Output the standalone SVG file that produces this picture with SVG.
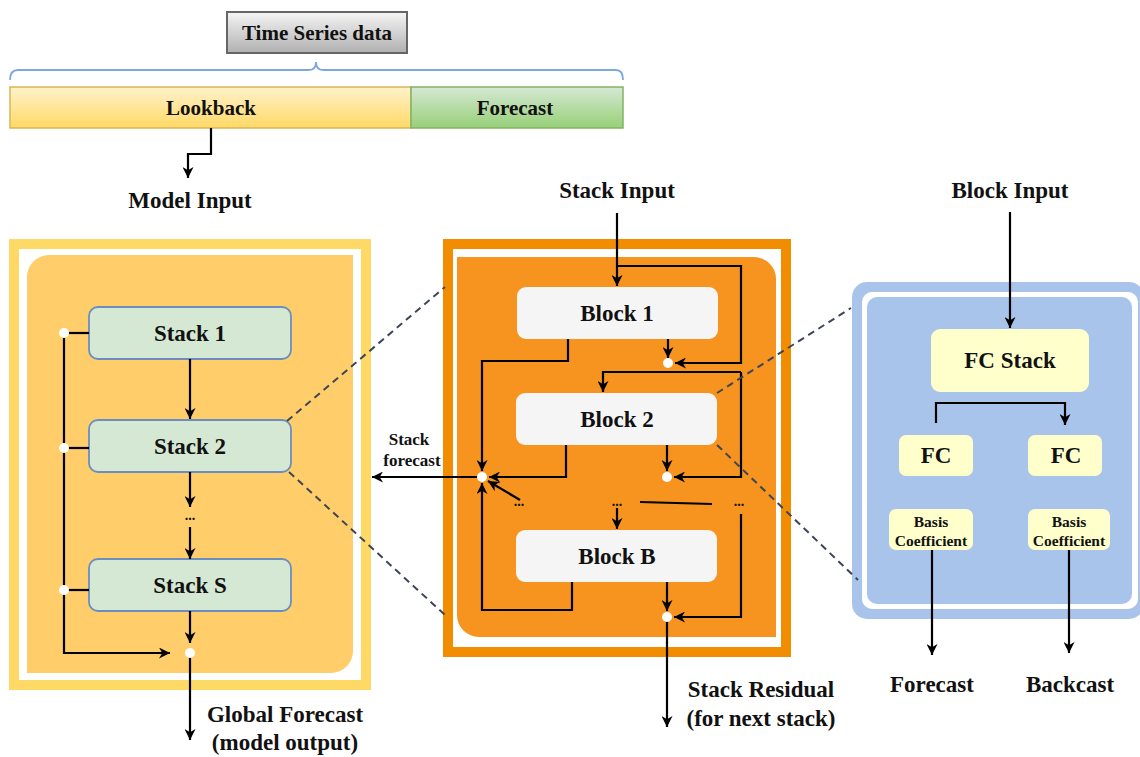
<svg xmlns="http://www.w3.org/2000/svg" width="1140" height="757" viewBox="0 0 1140 757">
<defs>
<linearGradient id="gGray" x1="0" y1="0" x2="0" y2="1"><stop offset="0" stop-color="#f5f5f5"/><stop offset="1" stop-color="#b0b0b0"/></linearGradient>
<linearGradient id="gYel" x1="0" y1="0" x2="0" y2="1"><stop offset="0" stop-color="#fff2cc"/><stop offset="1" stop-color="#ffd966"/></linearGradient>
<linearGradient id="gGrn" x1="0" y1="0" x2="0" y2="1"><stop offset="0" stop-color="#d5e8d4"/><stop offset="1" stop-color="#97d077"/></linearGradient>
<marker id="arr" viewBox="0 0 10 10" refX="10" refY="5" markerWidth="13" markerHeight="11" markerUnits="userSpaceOnUse" orient="auto">
<path d="M0,0 L10,5 L0,10 L3,5 Z" fill="#000"/>
</marker>
<style>
text{font-family:"Liberation Serif","Times New Roman",serif;font-weight:bold;fill:#111;text-anchor:middle}
.t22{font-size:23px}
.t21{font-size:21px}
.t17{font-size:17px}
.t15{font-size:15.5px}
.t14{font-size:14px}
.ln{fill:none;stroke:#000;stroke-width:2.2}
.ar{fill:none;stroke:#000;stroke-width:2.2;marker-end:url(#arr)}
.dash{fill:none;stroke:#3c4657;stroke-width:2;stroke-dasharray:7 5}
.dot{fill:#fff}
.stack{fill:#d5e8d4;stroke:#6c8ebf;stroke-width:1.8}
.block{fill:#f5f5f5}
.fc{fill:#ffffcc}
</style>
</defs>

<!-- top -->
<g id="ts-data">
<rect x="227" y="12" width="180" height="41" fill="url(#gGray)" stroke="#666" stroke-width="2"/>
<text class="t21" x="317" y="40">Time Series data</text>
</g>
<g id="brace">
<path d="M10,80 Q10,70 18,70 L309,70 Q316,70 316,62 Q316,70 323,70 L616,70 Q623,70 623,80" fill="none" stroke="#7ea6e0" stroke-width="1.8"/>
</g>
<g id="lookback">
<rect x="10" y="87" width="401" height="41" fill="url(#gYel)" stroke="#d6b656" stroke-width="1.5"/>
<text class="t21" x="211" y="115">Lookback</text>
</g>
<g id="forecast-bar">
<rect x="411" y="87" width="212" height="41" fill="url(#gGrn)" stroke="#82b366" stroke-width="1.5"/>
<text class="t21" x="515" y="115">Forecast</text>
</g>
<g id="model-input"><text class="t22" x="190" y="208">Model Input</text></g>

<!-- left panel -->
<g id="left-panel">
<rect x="9" y="239" width="362" height="451" fill="#ffd966"/>
<rect x="19" y="249" width="342" height="431" fill="#fff"/>
<path d="M49,255 H353 V651 A22,22 0 0 1 331,673 H27 V277 A22,22 0 0 1 49,255 Z" fill="#ffcd69"/>
</g>
<g id="stack1"><rect class="stack" x="89" y="307" width="202" height="52" rx="9"/><text class="t22" x="190" y="341">Stack 1</text></g>
<g id="stack2"><rect class="stack" x="89" y="420" width="202" height="52" rx="9"/><text class="t22" x="190" y="454">Stack 2</text></g>
<g id="stackS"><rect class="stack" x="89" y="559" width="202" height="52" rx="9"/><text class="t22" x="190" y="593">Stack S</text></g>
<g id="left-dots"><text class="t14" x="190" y="520">...</text></g>

<!-- middle panel -->
<g id="mid-panel">
<rect x="443" y="239" width="348" height="418" fill="#f28c00"/>
<rect x="453" y="249" width="328" height="398" fill="#fff"/>
<path d="M457,257 H754 A22,22 0 0 1 776,279 V637 H479 A22,22 0 0 1 457,615 Z" fill="#f6941f"/>
</g>
<g id="stack-input"><text class="t22" x="617" y="198">Stack Input</text></g>
<g id="block1"><rect class="block" x="517" y="287" width="201" height="52" rx="9"/><text class="t22" x="617" y="321">Block 1</text></g>
<g id="block2"><rect class="block" x="516" y="393" width="201" height="52" rx="9"/><text class="t22" x="617" y="427">Block 2</text></g>
<g id="blockB"><rect class="block" x="516" y="530" width="201" height="52" rx="9"/><text class="t22" x="617" y="564">Block B</text></g>
<g id="mid-dots">
<text class="t14" x="519" y="506">...</text>
<text class="t14" x="617" y="506">...</text>
<text class="t14" x="739" y="506">...</text>
</g>
<g id="stack-forecast-label"><text class="t17" x="409" y="445">Stack</text><text class="t17" x="412" y="466">forecast</text></g>
<g id="stack-residual"><text class="t22" x="761" y="697">Stack Residual</text><text class="t22" x="761" y="726">(for next stack)</text></g>
<g id="global-forecast"><text class="t22" x="285" y="722">Global Forecast</text><text class="t22" x="285" y="750">(model output)</text></g>

<!-- right panel -->
<g id="right-panel">
<rect x="852" y="282" width="292" height="337" rx="15" fill="#a9c4eb"/>
<rect x="862" y="292" width="276" height="317" rx="10" fill="#fff"/>
<rect x="867" y="297" width="265" height="307" rx="10" fill="#a9c4eb"/>
</g>
<g id="block-input"><text class="t22" x="1010" y="198">Block Input</text></g>
<g id="fc-stack"><rect class="fc" x="931" y="329" width="158" height="63" rx="9"/><text class="t22" x="1010" y="368">FC Stack</text></g>
<g id="fc-left"><rect class="fc" x="899" y="435" width="74" height="41" rx="7"/><text class="t22" x="936" y="463">FC</text></g>
<g id="fc-right"><rect class="fc" x="1028" y="435" width="74" height="41" rx="7"/><text class="t22" x="1066" y="463">FC</text></g>
<g id="basis-left"><rect class="fc" x="889" y="509" width="84" height="41" rx="7"/><text class="t15" x="931" y="527">Basis</text><text class="t15" x="931" y="546">Coefficient</text></g>
<g id="basis-right"><rect class="fc" x="1028" y="509" width="82" height="41" rx="7"/><text class="t15" x="1069" y="527">Basis</text><text class="t15" x="1069" y="546">Coefficient</text></g>
<g id="forecast-out"><text class="t22" x="932" y="692">Forecast</text></g>
<g id="backcast-out"><text class="t22" x="1070" y="692">Backcast</text></g>

<!-- connectors -->
<g id="connectors">
<polyline class="ar" points="211,128 211,154 188,154 188,178"/>
<!-- left -->
<line class="ln" x1="64" y1="333" x2="89" y2="333"/>
<line class="ln" x1="64" y1="448" x2="89" y2="448"/>
<line class="ln" x1="64" y1="590" x2="89" y2="590"/>
<polyline class="ar" points="64,333 64,653 170,653"/>
<line class="ar" x1="190" y1="359" x2="190" y2="419"/>
<line class="ar" x1="190" y1="472" x2="190" y2="507"/>
<line class="ar" x1="190" y1="527" x2="190" y2="559"/>
<line class="ar" x1="190" y1="611" x2="190" y2="643"/>
<line class="ar" x1="190" y1="653" x2="190" y2="740"/>
<!-- middle -->
<line class="ar" x1="617" y1="213" x2="617" y2="286"/>
<polyline class="ar" points="617,266 741,266 741,363 675,363"/>
<line class="ar" x1="668" y1="339" x2="668" y2="358"/>
<polyline class="ar" points="741,372 603,372 603,392"/>
<polyline class="ar" points="741,372 741,477 674,477"/>
<polyline class="ar" points="568,339 568,361 482,361 482,471"/>
<polyline class="ar" points="566,445 566,477 489,477"/>
<line class="ar" x1="667" y1="445" x2="667" y2="471"/>
<line class="ar" x1="520" y1="500" x2="488" y2="481"/>
<polyline class="ar" points="572,582 572,610 482,610 482,483"/>
<line class="ar" x1="482" y1="477" x2="372" y2="477"/>
<line class="ln" x1="640" y1="502" x2="712" y2="504"/>
<line class="ar" x1="617" y1="508" x2="617" y2="529"/>
<polyline class="ar" points="741,514 741,617 674,617"/>
<line class="ar" x1="667" y1="582" x2="667" y2="611"/>
<line class="ar" x1="667" y1="617" x2="667" y2="727"/>
<!-- right -->
<line class="ar" x1="1010" y1="212" x2="1010" y2="328"/>
<polyline class="ar" points="936,423 936,403 1065,403 1065,425"/>
<line class="ar" x1="932" y1="550" x2="932" y2="655"/>
<line class="ar" x1="1069" y1="550" x2="1069" y2="653"/>
<!-- dashed zoom lines -->
<line class="dash" x1="287" y1="421" x2="445" y2="287"/>
<line class="dash" x1="289" y1="472" x2="445" y2="615"/>
<line class="dash" x1="717" y1="393" x2="851" y2="308"/>
<line class="dash" x1="717" y1="445" x2="858" y2="580"/>
<!-- junction dots -->
<circle class="dot" cx="64" cy="333" r="5"/>
<circle class="dot" cx="64" cy="448" r="5"/>
<circle class="dot" cx="64" cy="590" r="5"/>
<circle class="dot" cx="190" cy="653" r="5"/>
<circle class="dot" cx="668" cy="363" r="5"/>
<circle class="dot" cx="482" cy="477" r="5"/>
<circle class="dot" cx="667" cy="477" r="5"/>
<circle class="dot" cx="667" cy="617" r="5"/>
</g>
</svg>
